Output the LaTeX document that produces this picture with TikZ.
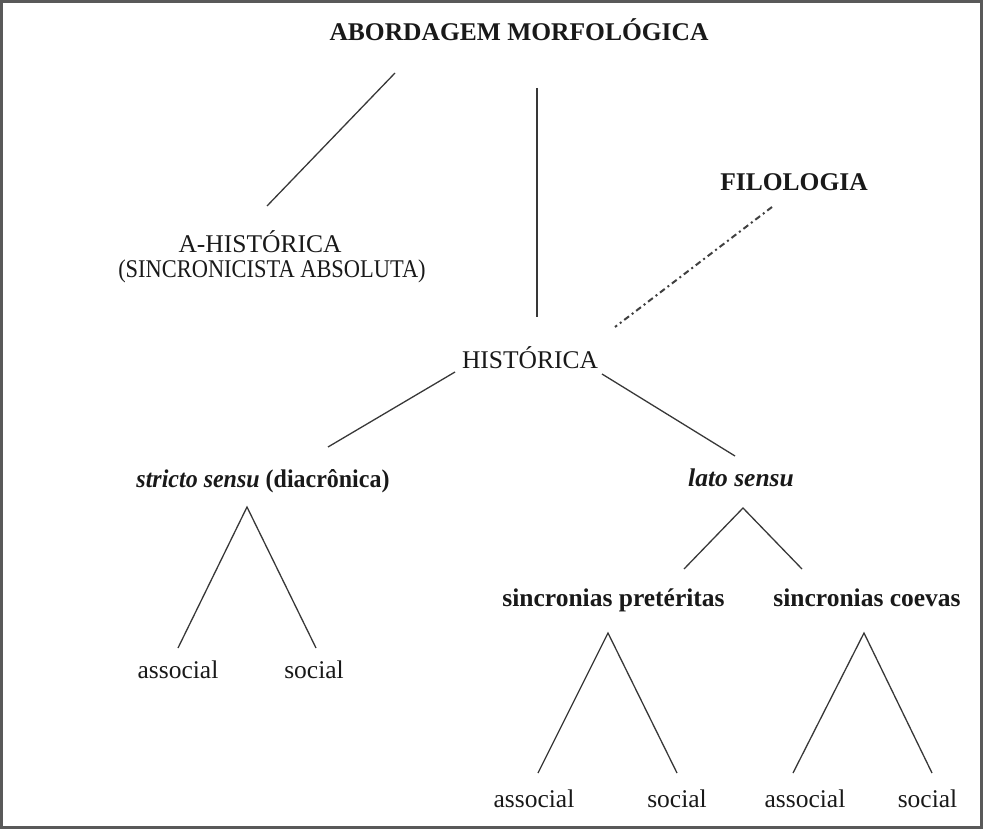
\documentclass[tikz,border=0pt]{standalone}
\usepackage{fontspec}
\setmainfont{Liberation Serif}
\begin{document}
\begin{tikzpicture}[x=1pt,y=-1pt,
  lbl/.style={font=\fontsize{25.5}{28}\selectfont, inner sep=0pt, anchor=base, text=black!90},
  lblb/.style={lbl, font=\fontsize{25.5}{28}\selectfont\bfseries},
  conn/.style={line width=1.3pt, draw=black!78},
  dashdot/.style={line width=2pt, draw=black!75, dash pattern=on 6pt off 3.5pt on 2pt off 3.5pt}]
\useasboundingbox (0,0) rectangle (983,829);
\draw[line width=3pt, draw=black!65] (1.5,1.5) rectangle (981.5,827.5);

% labels
\node[lblb] (top) at (519,41) {ABORDAGEM MORFOLÓGICA};
\node[lblb] (filo) at (794,191) {FILOLOGIA};
\node[lbl] (ahist) at (260,253) {A-HISTÓRICA};
\node[lbl] (sincr) at (272,277) {\scalebox{0.88}[1]{(SINCRONICISTA ABSOLUTA)}};
\node[lbl] (hist) at (530,368) {HISTÓRICA};
\node[lblb] (stricto) at (263,487) {\scalebox{0.94}[1]{\textit{stricto sensu} (diacrônica)}};
\node[lblb] (lato) at (741,486) {\textit{lato sensu}};
\node[lblb] (pret) at (613.5,606) {sincronias pretéritas};
\node[lblb] (coev) at (867,606) {sincronias coevas};
\node[lbl] (as1) at (178,678) {associal};
\node[lbl] (so1) at (314,678) {social};
\node[lbl] (as2) at (534,807) {associal};
\node[lbl] (so2) at (677,807) {social};
\node[lbl] (as3) at (805,807) {associal};
\node[lbl] (so3) at (927.5,807) {social};

% connector end points
\coordinate (t1) at (395,73);   \coordinate (a1) at (267,206);
\coordinate (t2) at (537,88);   \coordinate (h1) at (537,317);
\coordinate (f1) at (772,207);  \coordinate (h2) at (615,327);
\coordinate (h3) at (455,372);  \coordinate (s1) at (328,447);
\coordinate (h4) at (602,374);  \coordinate (l1) at (735,456);
\coordinate (s2) at (247,507);  \coordinate (sa) at (178,648); \coordinate (ss) at (316,648);
\coordinate (l2) at (743,508);  \coordinate (la) at (684,569); \coordinate (lb) at (802,569);
\coordinate (p1) at (608,633);  \coordinate (pa) at (538,773); \coordinate (ps) at (677,773);
\coordinate (c1) at (864,633);  \coordinate (ca) at (793,773); \coordinate (cs) at (932,773);

\draw[conn] (t1) -- (a1);
\draw[conn] (t2) -- (h1);
\draw[dashdot] (f1) -- (h2);
\draw[conn] (h3) -- (s1);
\draw[conn] (h4) -- (l1);
\draw[conn] (sa) -- (s2) -- (ss);
\draw[conn] (la) -- (l2) -- (lb);
\draw[conn] (pa) -- (p1) -- (ps);
\draw[conn] (ca) -- (c1) -- (cs);
\end{tikzpicture}
\end{document}
